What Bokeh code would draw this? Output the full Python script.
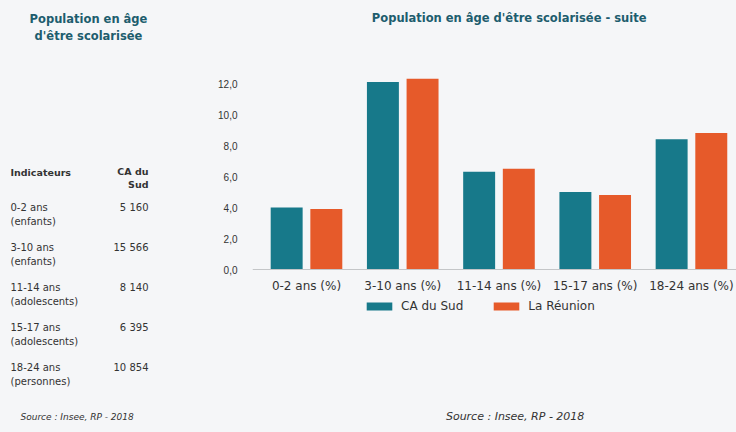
from bokeh.plotting import figure
from bokeh.models import Label, Legend, LegendItem, FixedTicker, Range1d
from bokeh.layouts import row, column
from bokeh.embed import file_html
from bokeh.resources import INLINE

# ---- data ----
categories = ["0-2 ans (%)", "3-10 ans (%)", "11-14 ans (%)", "15-17 ans (%)", "18-24 ans (%)"]
ca_sud = [4.0, 12.1, 6.3, 5.0, 8.4]
la_reunion = [3.9, 12.3, 6.5, 4.8, 8.8]
series_names = ["CA du Sud", "La Réunion"]
y_ticks = [0, 2, 4, 6, 8, 10, 12]
y_tick_labels = ["0,0", "2,0", "4,0", "6,0", "8,0", "10,0", "12,0"]

table_indicateurs = ["0-2 ans", "3-10 ans", "11-14 ans", "15-17 ans", "18-24 ans"]
table_groupes = ["(enfants)", "(enfants)", "(adolescents)", "(adolescents)", "(personnes)"]
table_ca_sud = ["5 160", "15 566", "8 140", "6 395", "10 854"]

# ---- style ----
BG = "#f5f6f8"
TEAL = "#17798a"
ORANGE = "#e65a2a"
TITLE_COL = "#1d5d6e"
TXT = "#333333"
FONT = "DejaVu Sans"

W, H = 736, 432
LEFT_W = 208
CHART_TOP = 52
FRAME_H = 268
BOTTOM_BORDER = 30
CHART_H = FRAME_H + BOTTOM_BORDER


def text_panel(x0, x1, y0, y1):
    """Blank figure whose data coordinates equal picture pixel coordinates."""
    f = figure(width=x1 - x0, height=y1 - y0, output_backend="svg", toolbar_location=None,
               x_range=Range1d(x0, x1), y_range=Range1d(y1, y0),
               x_axis_type=None, y_axis_type=None, min_border=0,
               background_fill_color=None, border_fill_color=None, outline_line_color=None)
    f.xgrid.visible = False
    f.ygrid.visible = False
    return f


def lab(f, text, xp, yp, size, style="normal", align="left", color=TXT):
    f.add_layout(Label(x=xp, y=yp, text=text, text_font=FONT, text_font_size=size,
                       text_font_style=style, text_align=align, text_baseline="middle",
                       text_color=color))


# ---- left panel (title + table) ----
left = text_panel(0, LEFT_W, 0, H)
lab(left, "Population en âge", 88, 18, "11.5px", "bold", "center", TITLE_COL)
lab(left, "d'être scolarisée", 88, 35, "11.5px", "bold", "center", TITLE_COL)
lab(left, "Indicateurs", 10, 172, "9.5px", "bold")
lab(left, "CA du", 148, 171, "9.5px", "bold", "right")
lab(left, "Sud", 148, 184, "9.5px", "bold", "right")
for i, (ind, grp, val) in enumerate(zip(table_indicateurs, table_groupes, table_ca_sud)):
    y0 = 207 + 40 * i
    lab(left, ind, 10, y0, "10px")
    lab(left, grp, 10, y0 + 14, "10px")
    lab(left, val, 148, y0, "10px", "normal", "right")
lab(left, "Source : Insee, RP - 2018", 20, 416, "9px", "italic")

RX0, RX1 = LEFT_W, W

# ---- top panel (chart title) ----
top = text_panel(RX0, RX1, 0, CHART_TOP)
lab(top, "Population en âge d'être scolarisée - suite", 488, 17, "11.5px", "bold", "center", TITLE_COL)

# ---- chart (frame extends below zero to hold the legend) ----
PX_PER_UNIT = 15.5
y_top = (269 - CHART_TOP) / PX_PER_UNIT
y_bot = -(CHART_TOP + FRAME_H - 269) / PX_PER_UNIT
p = figure(width=RX1 - RX0, height=CHART_H, output_backend="svg", toolbar_location=None,
           x_range=Range1d(-0.561, 4.468), y_range=Range1d(y_bot, y_top),
           min_border_left=44, min_border_right=0, min_border_top=0,
           min_border_bottom=BOTTOM_BORDER,
           background_fill_color=None, border_fill_color=None, outline_line_color=None)

r1 = p.vbar(x=[i - 0.206 for i in range(len(categories))], top=ca_sud, bottom=0, width=0.332,
            fill_color=TEAL, line_color=None)
r2 = p.vbar(x=[i + 0.206 for i in range(len(categories))], top=la_reunion, bottom=0, width=0.332,
            fill_color=ORANGE, line_color=None)

p.xgrid.visible = False
p.ygrid.visible = False

xa = p.xaxis[0]
xa.fixed_location = 0
xa.ticker = FixedTicker(ticks=list(range(len(categories))))
xa.major_label_overrides = {i: c for i, c in enumerate(categories)}
xa.axis_line_color = "#c4c6c8"
xa.major_tick_line_color = None
xa.minor_tick_line_color = None
xa.major_tick_out = 0
xa.major_tick_in = 0
xa.minor_tick_out = 0
xa.major_label_standoff = 9
xa.major_label_text_font = FONT
xa.major_label_text_font_size = "12px"
xa.major_label_text_color = TXT

ya = p.yaxis[0]
ya.ticker = FixedTicker(ticks=y_ticks)
ya.major_label_overrides = {t: l for t, l in zip(y_ticks, y_tick_labels)}
ya.axis_line_color = None
ya.major_tick_line_color = None
ya.minor_tick_line_color = None
ya.major_tick_out = 0
ya.major_tick_in = 0
ya.minor_tick_out = 0
ya.major_label_standoff = 15
ya.major_label_text_font = "Liberation Sans"
ya.major_label_text_font_size = "10px"
ya.major_label_text_color = TXT

legend = Legend(items=[LegendItem(label=series_names[0], renderers=[r1]),
                       LegendItem(label=series_names[1], renderers=[r2])],
                orientation="horizontal", location=(363 - 252, CHART_TOP + FRAME_H - 313),
                glyph_width=32, glyph_height=10, label_standoff=6, spacing=27,
                padding=0, margin=0, border_line_color=None, background_fill_alpha=0,
                label_text_font=FONT, label_text_font_size="12px", label_text_color=TXT)
p.add_layout(legend)

# ---- bottom panel (source) ----
bottom = text_panel(RX0, RX1, CHART_TOP + CHART_H, H)
lab(bottom, "Source : Insee, RP - 2018", 419, 416, "11px", "italic")

layout = row(left, column(top, p, bottom))
html = file_html(layout, INLINE)
html = html.replace("</head>", "<style>html, body { background: %s !important; }</style></head>" % BG, 1)
open("out.html", "w").write(html)
